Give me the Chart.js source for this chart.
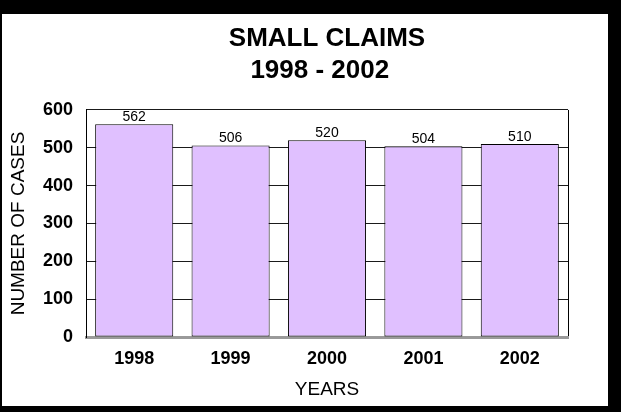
<!DOCTYPE html>
<html>
<head>
<meta charset="utf-8">
<script src="https://cdn.jsdelivr.net/npm/chart.js@4/dist/chart.umd.min.js"></script>
<style>
  html, body { margin: 0; padding: 0; background: #000; }
  body { width: 621px; height: 412px; position: relative; overflow: hidden; }
  #panel { position: absolute; left: 2px; top: 14px; width: 606px; height: 392px; background: #fff; }
</style>
</head>
<body>
<div id="panel"><canvas id="barChart"></canvas></div>
<script>
// Data
const years = ['1998', '1999', '2000', '2001', '2002'];
const cases = [562, 506, 520, 504, 510];
const yTicks = [0, 100, 200, 300, 400, 500, 600];

// Colors
const barColor = '#E0C0FF';
const lineColor = '#000000';
const floorColor = '#9a9a9a';
const fontFamily = '"Liberation Sans", Arial, sans-serif';

// value labels above each bar
const valueLabels = {
  id: 'valueLabels',
  afterDatasetsDraw(chart) {
    const ctx = chart.ctx;
    const meta = chart.getDatasetMeta(0);
    ctx.save();
    ctx.font = '14px ' + fontFamily;
    ctx.fillStyle = '#000';
    ctx.textAlign = 'center';
    ctx.textBaseline = 'middle';
    meta.data.forEach((bar, i) => {
      ctx.fillText(String(cases[i]), bar.x, bar.y - 7);
    });
    ctx.restore();
  }
};

const barChart = document.getElementById('barChart');
if (barChart) {
  new Chart(barChart, {
    type: 'bar',
    data: {
      labels: years,
      datasets: [
        {
          data: cases,
          backgroundColor: barColor,
          borderColor: lineColor,
          borderWidth: 1,
          borderSkipped: false,
          categoryPercentage: 0.81,
          barPercentage: 1
        }
      ]
    },
    options: {
      responsive: true,
      maintainAspectRatio: false,
      animation: false,
      layout: {
        padding: { left: 0, right: 40, top: 0, bottom: 0 }
      },
      plugins: {
        legend: { display: false },
        tooltip: { enabled: false },
        title: {
          display: true,
          fullSize: false,
          text: ['SMALL CLAIMS', '1998 - 2002  '],
          color: '#000',
          font: { family: fontFamily, size: 26, weight: 'bold', lineHeight: 1.23 },
          padding: { top: 9, bottom: 23 }
        }
      },
      scales: {
        x: {
          grid: {
            drawTicks: false,
            // only the closing line on the right of the plot
            color: (c) => (c.tick ? 'rgba(0,0,0,0)' : lineColor),
            lineWidth: 1
          },
          border: { display: true, color: floorColor, width: 3 },
          ticks: {
            color: '#000',
            padding: 11,
            font: { family: fontFamily, size: 18, weight: 'bold' }
          },
          title: {
            display: true,
            text: 'YEARS',
            color: '#000',
            font: { family: fontFamily, size: 19 },
            padding: { top: 0, bottom: 5 }
          },
          afterFit(scale) {
            scale.height = 69;
          }
        },
        y: {
          min: 0,
          max: 600,
          afterBuildTicks(scale) {
            scale.ticks = yTicks.map((v) => ({ value: v }));
          },
          grid: {
            drawTicks: false,
            color: (c) => (c.tick && c.tick.value === 0 ? 'rgba(0,0,0,0)' : '#1a1a1a'),
            lineWidth: 1
          },
          border: { display: true, color: lineColor, width: 1 },
          ticks: {
            color: '#000',
            padding: 13,
            font: { family: fontFamily, size: 18, weight: 'bold' }
          },
          title: {
            display: true,
            text: 'NUMBER OF CASES',
            color: '#000',
            font: { family: fontFamily, size: 19 },
            padding: { top: 5, bottom: 0 }
          },
          afterFit(scale) {
            scale.width = 84;
          }
        }
      }
    },
    plugins: [valueLabels]
  });
}
</script>
</body>
</html>
